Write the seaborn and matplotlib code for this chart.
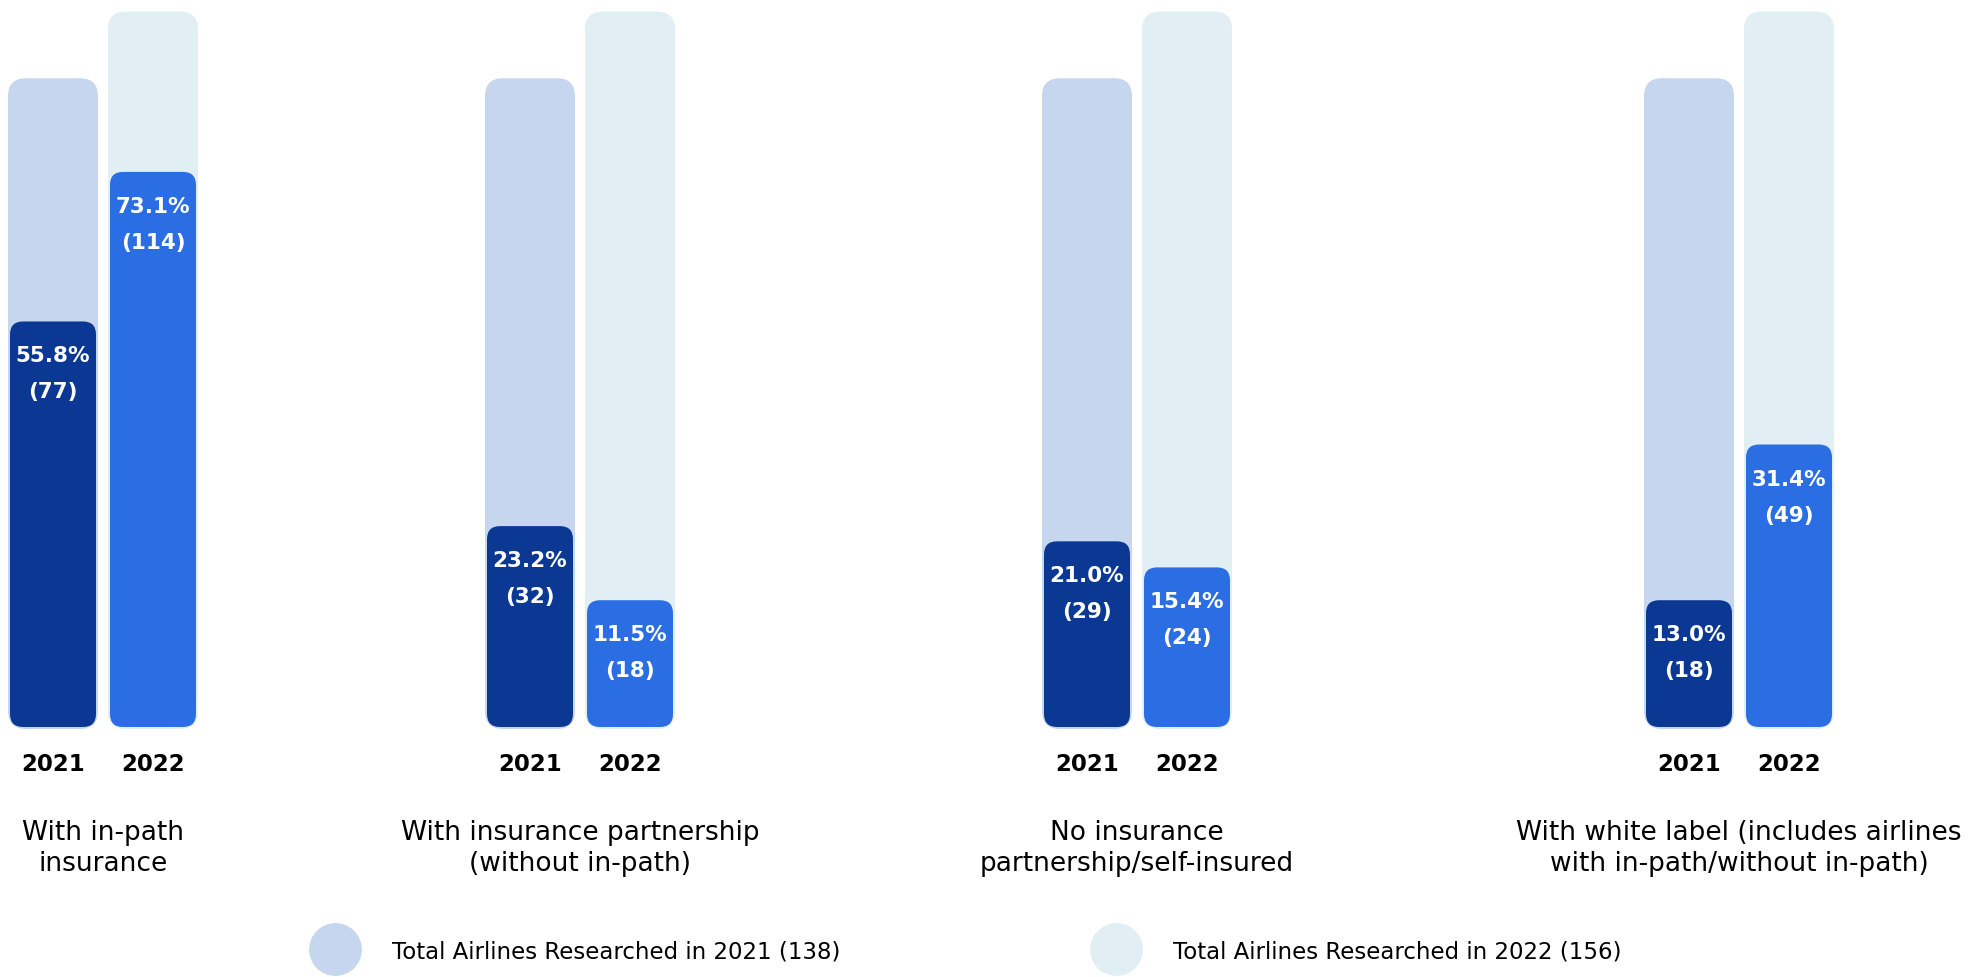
import numpy as np
import pandas as pd
import seaborn as sns
import matplotlib.pyplot as plt
from matplotlib.patches import FancyBboxPatch
from matplotlib.lines import Line2D
from matplotlib.transforms import IdentityTransform

categories = ["With in-path\ninsurance",
              "With insurance partnership\n(without in-path)",
              "No insurance\npartnership/self-insured",
              "With white label (includes airlines\nwith in-path/without in-path)"]
years = ["2021", "2022"]
airlines_2021 = [77, 32, 29, 18]
airlines_2022 = [114, 18, 24, 49]
share_2021 = [55.8, 23.2, 21.0, 13.0]
share_2022 = [73.1, 11.5, 15.4, 31.4]
total_airlines = [138, 156]

bar_colors = {"2021": "#0B3893", "2022": "#2B6DE3"}
track_colors = {"2021": "#C6D6EF", "2022": "#E1EEF3"}

sns.set_style("white")
plt.rcParams['font.family'] = ['DejaVu Sans']

W, H = 1985, 978
fig = plt.figure(figsize=(W / 100, H / 100), dpi=100)

# the infographic bars grow roughly with count**0.8
def fwd(v):
    return np.power(np.clip(v, 0, None), 0.8)

def inv(v):
    return np.power(np.clip(v, 0, None), 1 / 0.8)

group_centers = [103, 580, 1137, 1739]   # px
ax_bottom, ax_height = 250, 728

for i, cat in enumerate(categories):
    ax = fig.add_axes([(group_centers[i] - 100) / W, ax_bottom / H, 200 / W, ax_height / H])
    df = pd.DataFrame({"year": years,
                       "count": [airlines_2021[i], airlines_2022[i]],
                       "share": [share_2021[i], share_2022[i]],
                       "total": total_airlines})

    sns.barplot(data=df, x="year", y="total", hue="year", palette=track_colors,
                width=0.86, saturation=1, errorbar=None, legend=False, ax=ax)
    n_tracks = len(ax.patches)
    sns.barplot(data=df, x="year", y="count", hue="year", palette=bar_colors,
                width=0.86, saturation=1, errorbar=None, legend=False, ax=ax)

    ax.set_yscale('function', functions=(fwd, inv))
    ax.set_ylim(0, 160)
    ax.set_xlim(-0.5, 1.5)

    # swap plain rectangles for rounded ones (drawn in pixel space)
    for k, p in enumerate(list(ax.patches)):
        x0, y0 = p.get_x(), p.get_y()
        px0, py0 = ax.transData.transform((x0, y0))
        px1, py1 = ax.transData.transform((x0 + p.get_width(), y0 + p.get_height()))
        pad = 2 if k < n_tracks else 0
        r = 18 if k < n_tracks else 13
        fb = FancyBboxPatch((px0 - pad, py0 - pad), px1 - px0 + 2 * pad, py1 - py0 + 2 * pad,
                            boxstyle=f"round,pad=0,rounding_size={r}",
                            fc=p.get_facecolor(), ec='none',
                            transform=IdentityTransform(), clip_on=False)
        p.remove()
        ax.add_artist(fb)

    for j, row in df.iterrows():
        ax.annotate(f"{row['share']:.1f}%", xy=(j, row['count']), xytext=(0, -34),
                    textcoords='offset pixels', ha='center', va='center',
                    color='white', fontsize=15.5, fontweight='bold')
        ax.annotate(f"({row['count']})", xy=(j, row['count']), xytext=(0, -70),
                    textcoords='offset pixels', ha='center', va='center',
                    color='white', fontsize=15.5, fontweight='bold')

    ax.tick_params(axis='x', length=0, pad=18, labelsize=16.5, labelcolor='black')
    for lab in ax.get_xticklabels():
        lab.set_fontweight('bold')
    ax.tick_params(axis='y', which='both', left=False, labelleft=False)
    ax.set_xlabel('')
    ax.set_ylabel('')
    sns.despine(ax=ax, left=True, bottom=True)
    ax.patch.set_alpha(0)

    ax.text(0.5, -(849 - ax_height) / ax_height, cat, transform=ax.transAxes,
            ha='center', va='center', multialignment='center',
            fontsize=19, linespacing=1.25, color='black')

handles = [Line2D([], [], ls='none', marker='o', markersize=38,
                  markerfacecolor=track_colors[y], markeredgecolor='none') for y in years]
labels = [f"Total Airlines Researched in {y} ({t})" for y, t in zip(years, total_airlines)]
fig.legend(handles, labels, loc='center left', bbox_to_anchor=(321 / W, 1 - 952 / H),
           ncol=2, frameon=False, fontsize=16.5, labelcolor='black', handlelength=1.2,
           handletextpad=1.89, columnspacing=11.45, borderpad=0, borderaxespad=0)

fig.savefig("out.png", dpi=100, facecolor='white')
